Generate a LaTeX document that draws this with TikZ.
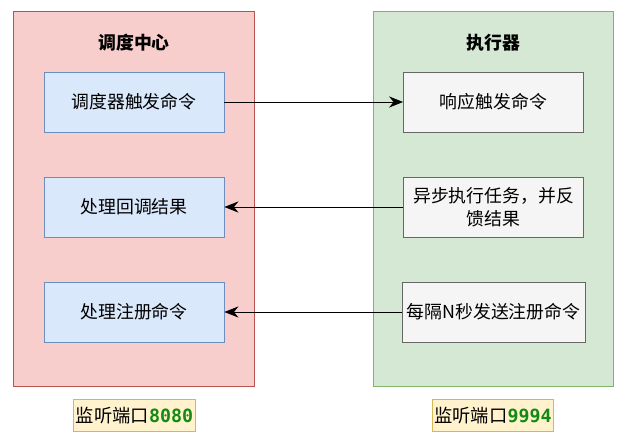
\documentclass[tikz,border=0pt]{standalone}
\usepackage{fontspec}
\setmainfont{Noto Sans CJK SC}
\newfontfamily\portfont{DejaVu Sans Mono}
\usepackage{xcolor}
\usepackage{tikz}
\usetikzlibrary{arrows.meta}

\definecolor{centerfill}{HTML}{F8CECC}
\definecolor{centerline}{HTML}{B85450}
\definecolor{execfill}{HTML}{D5E8D4}
\definecolor{execline}{HTML}{82B366}
\definecolor{blueboxfill}{HTML}{DAE8FC}
\definecolor{blueboxline}{HTML}{6C8EBF}
\definecolor{greyboxfill}{HTML}{F5F5F5}
\definecolor{greyboxline}{HTML}{666666}
\definecolor{portfill}{HTML}{FFF2CC}
\definecolor{portline}{HTML}{D6B656}
\definecolor{portnum}{HTML}{138A13}

\tikzset{
    panel/.style={draw, line width=0.7pt, minimum width=6cm, minimum height=9.35cm},
    taskbox/.style={draw, line width=0.6pt, minimum width=4.5cm, minimum height=1.5cm,
        align=center, font=\fontsize{12.7}{16}\selectfont},
    portbox/.style={draw=portline, fill=portfill, line width=0.8pt, inner xsep=1.5pt,
        minimum height=0.78cm, font=\fontsize{13}{15}\selectfont},
    msg/.style={-{Stealth[length=10pt, width=8pt]}, line width=0.65pt}
}

\begin{document}
\begin{tikzpicture}[x=0.025cm, y=-0.025cm]
    \useasboundingbox (0, 0) rectangle (630, 442);

    % Scheduler
    \node[panel, draw=centerline, fill=centerfill] (center) at (134, 199) {};
    \node[font=\fontsize{12.7}{15}\selectfont\bfseries] (centertitle) at (134, 43) {调度中心};

    % Executor
    \node[panel, draw=execline, fill=execfill] (exec) at (493.5, 199) {};
    \node[font=\fontsize{12.7}{15}\selectfont\bfseries] (exectitle) at (493.5, 43) {执行器};

    % Scheduler side boxes
    \node[taskbox, draw=blueboxline, fill=blueboxfill] (trigger) at (134, 102) {调度器触发命令};
    \node[taskbox, draw=blueboxline, fill=blueboxfill] (callback) at (134, 207) {处理回调结果};
    \node[taskbox, draw=blueboxline, fill=blueboxfill] (register) at (134, 312) {处理注册命令};

    % Executor side boxes
    \node[taskbox, draw=greyboxline, fill=greyboxfill] (respond) at (493.5, 102) {响应触发命令};
    \node[taskbox, draw=greyboxline, fill=greyboxfill] (runtask) at (493.5, 207) {异步执行任务，并反\\馈结果};
    \node[taskbox, draw=greyboxline, fill=greyboxfill] (heartbeat) at (493.5, 312) {每隔N秒发送注册命令};

    % Messages
    \draw[msg] (trigger) -- (respond);
    \draw[msg] (runtask) -- (callback);
    \draw[msg] (heartbeat) -- (register);

    % Ports
    \node[portbox] (leftport) at (134.5, 415.5) {监听端口{\portfont\bfseries\color{portnum}8080}};
    \node[portbox] (rightport) at (493, 415.5) {监听端口{\portfont\bfseries\color{portnum}9994}};
\end{tikzpicture}
\end{document}
